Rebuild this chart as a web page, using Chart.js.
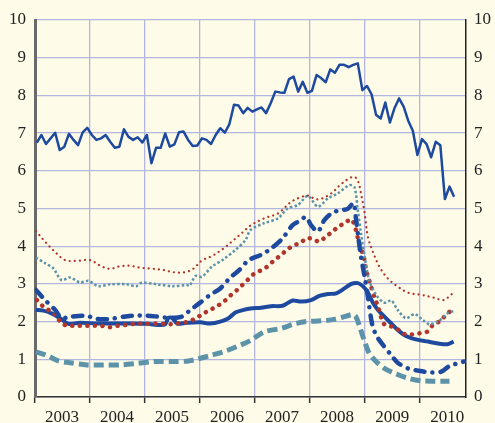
<!DOCTYPE html>
<html>
<head>
<meta charset="utf-8">
<script src="https://cdn.jsdelivr.net/npm/chart.js@4/dist/chart.umd.min.js"></script>
<style>
  html, body { margin: 0; padding: 0; background: #fefce9; }
  canvas { display: block; }
</style>
</head>
<body>
<canvas id="chart" width="495" height="423"></canvas>
<script>
// months counted from Jan 2003 (0 = start of 2003)
const years = ["2003", "2004", "2005", "2006", "2007", "2008", "2009", "2010"];

// thin blue line, one value per month from Jan 2003
const topValues = [
  6.75, 6.95, 6.71, 6.86, 7.01, 6.55, 6.64, 6.98, 6.82, 6.68, 7.02, 7.14,
  6.95, 6.82, 6.86, 6.95, 6.77, 6.61, 6.64, 7.10, 6.90, 6.82, 6.89, 6.75,
  6.95, 6.20, 6.61, 6.61, 6.99, 6.64, 6.70, 7.02, 7.04, 6.82, 6.66, 6.67,
  6.86, 6.82, 6.71, 6.95, 7.13, 7.01, 7.24, 7.75, 7.73, 7.53, 7.67, 7.57,
  7.63, 7.68, 7.53, 7.79, 8.10, 8.08, 8.07, 8.43, 8.50, 8.10, 8.36, 8.07,
  8.12, 8.54, 8.46, 8.35, 8.69, 8.60, 8.81, 8.81, 8.75, 8.81, 8.85, 8.14,
  8.25, 8.03, 7.48, 7.39, 7.81, 7.28, 7.66, 7.92, 7.70, 7.33, 7.06, 6.42,
  6.84, 6.71, 6.36, 6.77, 6.68, 5.25, 5.58, 5.31
];

// red thin dotted
const redThinMonths = [0.2, 2.2, 4.7, 6.6, 9.1, 12, 14.6, 16.4, 18.6, 20.8, 22.9, 25.1, 28, 30.2, 32.8, 34.6, 36.4, 38.6, 41.1, 43.3, 45.5, 47, 50, 53, 55.9, 58, 59.5, 61.7, 64.6, 66.8, 69.3, 70.3, 71.1, 71.9, 72.6, 73.7, 75.1, 76.9, 79.1, 81.3, 84.2, 86.8, 89.2, 90.4, 91.5];
const redThinValues = [4.40, 4.12, 3.81, 3.63, 3.61, 3.63, 3.46, 3.40, 3.47, 3.48, 3.43, 3.41, 3.37, 3.31, 3.31, 3.41, 3.62, 3.74, 3.94, 4.16, 4.39, 4.55, 4.74, 4.87, 5.18, 5.30, 5.34, 5.24, 5.40, 5.65, 5.84, 5.77, 5.40, 4.87, 4.25, 3.85, 3.46, 3.15, 2.93, 2.77, 2.71, 2.64, 2.57, 2.68, 2.79];

// teal thin dotted
const tealThinMonths = [0.2, 2.2, 4, 5.8, 7.6, 9.8, 11.7, 13.8, 16.4, 20, 22.1, 23.3, 26.6, 29.9, 33.1, 33.7, 35, 36.4, 38.6, 41.1, 43.7, 45.9, 47, 50, 53, 55.1, 57.3, 59.5, 61.7, 63.9, 66, 68.6, 69.7, 70.4, 71.1, 71.9, 72.9, 74.4, 76.2, 77.7, 79.1, 80.9, 82.8, 84.6, 86, 87.9, 90, 91.6];
const tealThinValues = [3.70, 3.55, 3.41, 3.10, 3.17, 3.04, 3.08, 2.94, 2.99, 2.99, 2.94, 3.03, 2.99, 2.94, 2.97, 2.95, 3.21, 3.19, 3.46, 3.65, 3.90, 4.16, 4.43, 4.61, 4.74, 5.00, 5.09, 5.33, 5.05, 5.27, 5.40, 5.62, 5.56, 4.96, 4.34, 3.72, 3.10, 2.71, 2.50, 2.56, 2.31, 2.09, 2.20, 2.04, 1.93, 2.00, 2.22, 2.29];

// blue thick dash-dot
const blueDashDotMonths = [0.2, 2.2, 4.4, 5.8, 7.6, 11.3, 13.5, 16.4, 19.3, 21.8, 24, 26.9, 29.5, 32, 33.9, 36.1, 38.2, 40.4, 42.6, 44.4, 46.6, 49.3, 51.5, 54, 56.2, 58, 59.1, 60.2, 61.7, 63.1, 64.9, 66.8, 68.2, 69.5, 70, 70.5, 71.1, 71.9, 72.6, 73.5, 74.4, 75.9, 77.7, 79.1, 81.3, 83.5, 86.4, 88.6, 90.4, 93.5];
const blueDashDotValues = [2.84, 2.57, 2.31, 2.09, 2.13, 2.15, 2.07, 2.07, 2.13, 2.16, 2.16, 2.13, 2.10, 2.13, 2.31, 2.51, 2.71, 2.88, 3.17, 3.35, 3.63, 3.77, 3.94, 4.21, 4.56, 4.69, 4.78, 4.56, 4.39, 4.69, 4.89, 4.96, 4.99, 5.14, 4.74, 4.25, 3.72, 3.19, 2.66, 1.95, 1.64, 1.38, 1.11, 0.91, 0.76, 0.70, 0.65, 0.67, 0.82, 0.94];

// red thick dotted
const redDotMonths = [0.4, 1.8, 3.6, 4.7, 5.6, 7.1, 8.7, 10.7, 12.6, 14.3, 16.2, 18, 19.7, 21.5, 23.3, 25, 26.8, 28.4, 30.2, 31.8, 33.5, 35.1, 36.8, 38.2, 39.7, 41.2, 42.5, 43.9, 45.2, 46.5, 47.9, 49.5, 50.8, 52.2, 53.7, 55.1, 56.6, 58, 59.1, 60.6, 62, 63.3, 64.7, 66.2, 67.5, 69, 70, 70.5, 71, 71.5, 71.9, 72.2, 72.7, 73.3, 74, 74.8, 76.1, 77.7, 79.3, 80.6, 82.2, 83.9, 85.5, 87, 88.2, 89.5, 90.6];
const redDotValues = [2.57, 2.40, 2.26, 2.16, 1.97, 1.89, 1.89, 1.89, 1.89, 1.89, 1.85, 1.89, 1.91, 1.94, 1.95, 1.94, 1.95, 1.94, 1.93, 1.97, 2.00, 2.09, 2.22, 2.31, 2.41, 2.53, 2.68, 2.82, 2.97, 3.12, 3.28, 3.37, 3.47, 3.63, 3.77, 3.92, 4.03, 4.09, 4.21, 4.19, 4.12, 4.24, 4.37, 4.52, 4.61, 4.71, 4.43, 4.16, 3.97, 3.79, 3.61, 3.37, 3.17, 2.93, 2.66, 2.40, 1.94, 1.87, 1.78, 1.67, 1.66, 1.69, 1.73, 1.94, 2.00, 2.16, 2.28];

// blue thick solid
const blueSolidMonths = [0.2, 1.8, 3.6, 5.5, 7.3, 9.8, 13.5, 17.1, 20.8, 24.4, 27.3, 28.4, 29.1, 29.9, 31, 33.1, 36.1, 38.2, 40.4, 42.2, 43.7, 45.5, 47, 49.3, 51.5, 54, 56.2, 58, 60.2, 62, 63.9, 65.7, 67.5, 69, 70.4, 71.5, 72.6, 73.7, 74.8, 76.2, 77.7, 79.1, 80.9, 83.1, 85.7, 87.9, 90, 91.3];
const blueSolidValues = [2.31, 2.29, 2.22, 2.09, 1.94, 1.97, 1.95, 1.95, 1.95, 1.94, 1.91, 1.93, 2.10, 2.10, 1.95, 1.97, 1.98, 1.95, 2.00, 2.09, 2.24, 2.31, 2.35, 2.37, 2.41, 2.42, 2.56, 2.53, 2.57, 2.68, 2.73, 2.75, 2.88, 3.00, 3.02, 2.94, 2.77, 2.50, 2.31, 2.13, 1.95, 1.78, 1.62, 1.53, 1.47, 1.42, 1.40, 1.47];

// teal thick dashed
const tealDashMonths = [0.2, 2.5, 5.1, 7.6, 11.3, 14.9, 18.6, 22.2, 25.9, 29.5, 33.1, 35.3, 38.2, 41.1, 44.1, 47, 50, 53.7, 56.6, 59.1, 62.4, 65.3, 67.5, 69.3, 70, 70.8, 71.9, 72.9, 74.4, 76.2, 78.4, 81.3, 84.2, 87.1, 90.4];
const tealDashValues = [1.20, 1.11, 0.96, 0.91, 0.85, 0.85, 0.85, 0.89, 0.94, 0.94, 0.95, 1.00, 1.10, 1.20, 1.34, 1.50, 1.73, 1.82, 1.94, 2.00, 2.02, 2.06, 2.13, 2.19, 2.13, 1.87, 1.47, 1.16, 0.94, 0.76, 0.63, 0.50, 0.43, 0.42, 0.42];

const BLUE = "#1d4a9e";
const RED = "#b2352c";
const TEAL = "#5d93a8";
const GRID = "#b3b7df";

function pts(months, values) {
  return values.map((v, i) => ({ x: months[i], y: v }));
}

const topMonths = topValues.map((v, i) => i + 0.4);

const fontSpec = { family: "Liberation Serif", size: 17 };

new Chart(document.getElementById("chart"), {
  type: "line",
  data: {
    datasets: [
      { data: pts(topMonths, topValues), borderColor: BLUE, borderWidth: 2.5, tension: 0 },
      { data: pts(redThinMonths, redThinValues), borderColor: RED, borderWidth: 2.2, borderDash: [0.1, 5], borderCapStyle: "round", tension: 0.35 },
      { data: pts(tealThinMonths, tealThinValues), borderColor: TEAL, borderWidth: 2.5, borderDash: [2.5, 2.2], tension: 0.3 },
      { data: pts(blueDashDotMonths, blueDashDotValues), borderColor: BLUE, borderWidth: 4.5, borderDash: [9, 8, 0.1, 8], borderCapStyle: "round", tension: 0.3 },
      { data: pts(redDotMonths, redDotValues), borderColor: RED, borderWidth: 4.5, borderDash: [0.1, 7.5], borderCapStyle: "round", tension: 0.3 },
      { data: pts(blueSolidMonths, blueSolidValues), borderColor: BLUE, borderWidth: 4, tension: 0.3 },
      { data: pts(tealDashMonths, tealDashValues), borderColor: TEAL, borderWidth: 5, borderDash: [10, 5], tension: 0.3 },
    ],
  },
  options: {
    responsive: false,
    animation: false,
    events: [],
    layout: { padding: { top: 20, left: 0, right: 0, bottom: 0 } },
    elements: { point: { radius: 0 }, line: { fill: false, borderJoinStyle: "round" } },
    plugins: { legend: { display: false }, tooltip: { enabled: false } },
    scales: {
      x: {
        type: "linear",
        min: 0,
        max: 94,
        afterBuildTicks: (axis) => {
          axis.ticks = years.map((y, i) => ({ value: i * 12 }));
        },
        afterFit: (axis) => { axis.height = 26; },
        grid: { color: GRID, lineWidth: 1.3, tickLength: 6, tickColor: "#333", tickWidth: 1.5 },
        border: { color: "#333", width: 1.5 },
        ticks: {
          autoSkip: false,
          maxRotation: 0,
          labelOffset: 27,
          padding: 4,
          color: "#222",
          font: fontSpec,
          callback: (v) => years[Math.round(v / 12)],
        },
      },
      y: {
        position: "left",
        min: 0,
        max: 10,
        afterFit: (axis) => { axis.width = 35; },
        grid: { color: GRID, lineWidth: 1.3, drawTicks: false },
        border: { color: "#6a6a6a", width: 3 },
        ticks: { stepSize: 1, padding: 9, color: "#222", font: fontSpec },
      },
      y2: {
        position: "right",
        min: 0,
        max: 10,
        afterFit: (axis) => { axis.width = 29; },
        grid: { drawOnChartArea: false, drawTicks: false },
        border: { color: "#222", width: 1.5 },
        ticks: { stepSize: 1, padding: 8, color: "#222", font: fontSpec },
      },
    },
  },
});
</script>
</body>
</html>
